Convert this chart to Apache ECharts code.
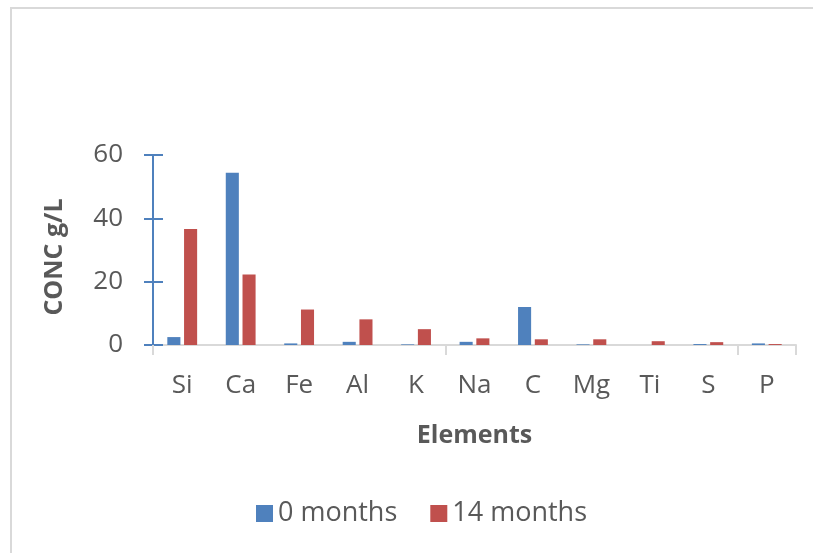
<!DOCTYPE html>
<html>
<head>
<meta charset="utf-8">
<script src="https://cdn.jsdelivr.net/npm/echarts@6/dist/echarts.min.js"></script>
<style>
  html, body { margin: 0; padding: 0; background: #ffffff; }
  #chart { width: 813px; height: 553px; }
</style>
</head>
<body>
<div id="chart"></div>
<script>
// Element concentrations (g/L) before and after 14 months
const elements = ['Si', 'Ca', 'Fe', 'Al', 'K', 'Na', 'C', 'Mg', 'Ti', 'S', 'P'];
const months0 = [2.5, 54.4, 0.5, 1.0, 0.2, 1.0, 12.0, 0.2, 0.0, 0.3, 0.5];
const months14 = [36.6, 22.3, 11.2, 8.1, 5.0, 2.1, 1.8, 1.8, 1.2, 0.9, 0.3];
const seriesNames = ['0 months', '14 months'];
const yTicks = { min: 0, max: 60, interval: 20 };

const FONT = '"Open Sans", "Noto Sans", sans-serif';
const TEXT = '#595959';
const BLUE = '#4f81bd';
const RED = '#c0504d';

const chart = echarts.init(document.getElementById('chart'), null, { renderer: 'canvas' });

chart.setOption({
  animation: false,
  backgroundColor: '#ffffff',
  textStyle: { fontFamily: FONT },
  graphic: [{
    type: 'rect',
    shape: { x: 11, y: 8, width: 900, height: 700 },
    style: { fill: 'none', stroke: '#d9d9d9', lineWidth: 2 },
    silent: true
  }],
  grid: { left: 153, right: 17, top: 155, bottom: 208, containLabel: false },
  legend: {
    data: seriesNames,
    left: 251,
    top: 495,
    itemWidth: 17,
    itemHeight: 17,
    itemGap: 33,
    icon: 'rect',
    textStyle: { fontFamily: FONT, fontSize: 27, color: TEXT }
  },
  xAxis: {
    type: 'category',
    data: elements,
    name: 'Elements',
    nameLocation: 'middle',
    nameGap: 78,
    nameTextStyle: { fontFamily: FONT, fontSize: 25, fontWeight: 'bold', color: TEXT },
    axisLine: { lineStyle: { color: '#d9d9d9', width: 2 } },
    axisTick: {
      show: true,
      interval: function (index) { return index % 5 === 0; },
      length: 10,
      lineStyle: { color: '#d9d9d9', width: 2 }
    },
    axisLabel: { interval: 0, margin: 28, fontFamily: FONT, fontSize: 26, color: TEXT },
    splitLine: { show: false }
  },
  yAxis: [{
    type: 'value',
    min: yTicks.min,
    max: yTicks.max,
    interval: yTicks.interval,
    name: 'CONC g/L',
    nameLocation: 'middle',
    nameGap: 86,
    nameTextStyle: { fontFamily: FONT, fontSize: 25, fontWeight: 'bold', color: TEXT, padding: [0, 14, 0, 0] },
    axisLine: { show: true, lineStyle: { color: BLUE, width: 2 } },
    axisTick: { show: true, length: 9, lineStyle: { color: BLUE, width: 2 } },
    axisLabel: { margin: 30, fontFamily: FONT, fontSize: 26, color: TEXT },
    splitLine: { show: false }
  }, {
    // inner half of the crossing tick marks
    type: 'value',
    position: 'left',
    min: yTicks.min,
    max: yTicks.max,
    interval: yTicks.interval,
    axisLine: { show: false },
    axisTick: { show: true, inside: true, length: 10, lineStyle: { color: BLUE, width: 2 } },
    axisLabel: { show: false },
    splitLine: { show: false }
  }],
  series: [{
    name: seriesNames[0],
    type: 'bar',
    data: months0,
    itemStyle: { color: BLUE },
    barGap: '28%',
    barCategoryGap: '49%'
  }, {
    name: seriesNames[1],
    type: 'bar',
    data: months14,
    itemStyle: { color: RED },
    barGap: '28%',
    barCategoryGap: '49%'
  }]
});
</script>
</body>
</html>
